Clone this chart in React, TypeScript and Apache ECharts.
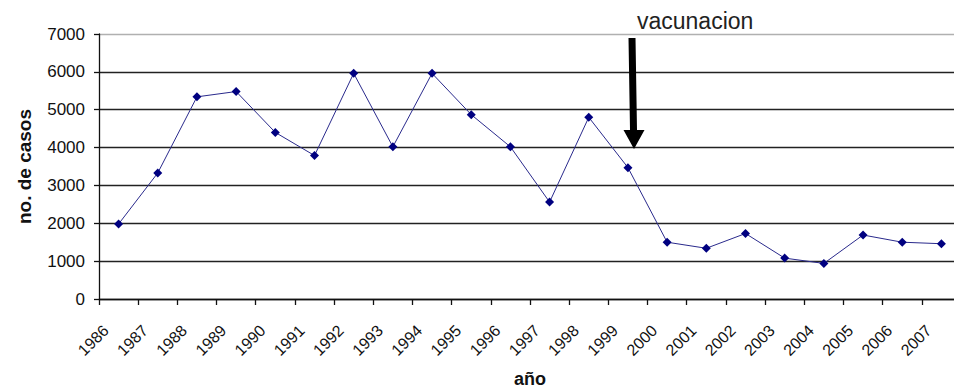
import React, { useEffect, useRef } from "react";
import * as echarts from "echarts";

const years = [
  "1986", "1987", "1988", "1989", "1990", "1991", "1992", "1993", "1994", "1995", "1996",
  "1997", "1998", "1999", "2000", "2001", "2002", "2003", "2004", "2005", "2006", "2007",
];
const casos = [
  1980, 3330, 5340, 5480, 4400, 3790, 5960, 4020, 5960, 4870, 4020,
  2560, 4800, 3470, 1500, 1340, 1730, 1080, 940, 1690, 1500, 1460,
];
const yTicks = { min: 0, max: 7000, interval: 1000 };
const annotationText = "vacunacion";
const xTitle = "año";
const yTitle = "no. de casos";

const FONT = "'Liberation Sans', Arial, sans-serif";

export default function App() {
  const ref = useRef<HTMLDivElement>(null);
  useEffect(() => {
    if (!ref.current) return;
    const chart = echarts.init(ref.current, null, { renderer: "svg" });
    const gridColors = ["#222", "#222", "#222", "#222", "#222", "#222", "#222", "#b0b0b0"];
    chart.setOption({
      animation: false,
      backgroundColor: "#fff",
      textStyle: { fontFamily: FONT },
      grid: {
        left: 99,
        top: 34,
        width: 862,
        height: 265,
        containLabel: false,
        outerBoundsMode: "none",
      },
      xAxis: {
        type: "category",
        data: years,
        boundaryGap: true,
        name: xTitle,
        nameLocation: "middle",
        nameGap: 71,
        nameTextStyle: { fontFamily: FONT, fontSize: 18, fontWeight: "bold", color: "#111" },
        axisLine: { show: true, lineStyle: { color: "#111", width: 1.3 } },
        axisTick: { show: true, alignWithLabel: false, length: 6, lineStyle: { color: "#111", width: 1.3 } },
        axisLabel: {
          interval: 0,
          rotate: 45,
          fontSize: 16,
          color: "#111",
          margin: 16,
          padding: [0, 18, 0, 0],
          fontFamily: FONT,
        },
        splitLine: { show: false },
      },
      yAxis: {
        type: "value",
        min: yTicks.min,
        max: yTicks.max,
        interval: yTicks.interval,
        name: yTitle,
        nameLocation: "middle",
        nameRotate: 90,
        nameGap: 65,
        nameTextStyle: { fontFamily: FONT, fontSize: 19, fontWeight: "bold", color: "#111" },
        axisLine: { show: true, lineStyle: { color: "#111", width: 1.3 } },
        axisTick: { show: true, inside: false, length: 5, lineStyle: { color: "#111", width: 1.3 } },
        axisLabel: {
          fontSize: 17,
          color: "#111",
          margin: 14,
          fontFamily: FONT,
          formatter: (v: number) => String(v),
        },
        splitLine: { show: true, lineStyle: { color: gridColors, width: 1.3 } },
      },
      series: [
        {
          type: "line",
          data: casos,
          symbol: "diamond",
          symbolSize: 9,
          showSymbol: true,
          lineStyle: { color: "#2a2a8c", width: 1 },
          itemStyle: { color: "#000080" },
        },
      ],
      graphic: [
        {
          type: "polygon",
          shape: {
            points: [
              [628.5, 38], [635.5, 38], [637, 130], [644.5, 130], [634, 149], [623.5, 130], [630, 130],
            ],
          },
          style: { fill: "#000" },
          z: 100,
        },
        {
          type: "text",
          x: 637,
          y: 21,
          style: {
            text: annotationText,
            font: `23px ${FONT}`,
            fill: "#222",
            textAlign: "left",
            textVerticalAlign: "middle",
          },
          z: 100,
        },
      ],
    });
    return () => chart.dispose();
  }, []);
  return (
    <div
      ref={ref}
      style={{ position: "fixed", left: 0, top: 0, width: 954, height: 389, background: "#fff" }}
    />
  );
}
